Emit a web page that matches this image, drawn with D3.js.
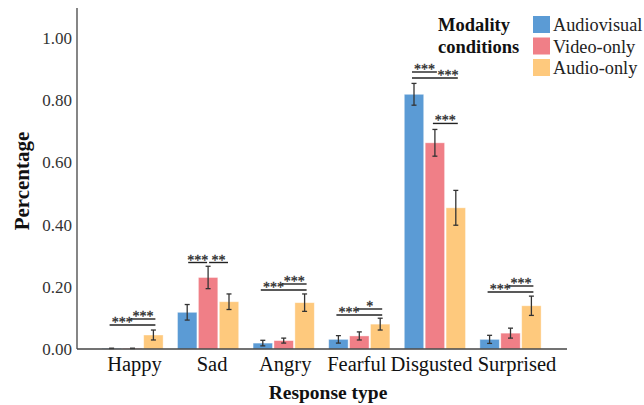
<!DOCTYPE html>
<html><head><meta charset="utf-8">
<script src="https://cdn.jsdelivr.net/npm/d3@7"></script>
<style>body{margin:0;background:#fff}svg{display:block;font-family:'Liberation Serif','Times New Roman',Times,serif}</style>
</head><body>
<svg id="c" width="644" height="405"></svg>
<script>
const categories = ["Happy","Sad","Angry","Fearful","Disgusted","Surprised"];
const seriesNames = ["Audiovisual","Video-only","Audio-only"];
const audiovisual = [0.002,0.118,0.019,0.031,0.819,0.031];
const videoOnly   = [0.002,0.230,0.027,0.042,0.663,0.051];
const audioOnly   = [0.045,0.152,0.149,0.080,0.454,0.139];
const errAV = [0.000,0.025,0.009,0.012,0.035,0.013];
const errVO = [0.000,0.036,0.008,0.013,0.043,0.016];
const errAO = [0.016,0.025,0.028,0.019,0.056,0.031];
const yTicks = [0,0.2,0.4,0.6,0.8,1.0];
// significance: [category, fromSeries, toSeries, label, level, labelPos]
const sigs = [
  ["Happy",0,2,"***",0,"left"],["Happy",1,2,"***",1,"mid"],
  ["Sad",0,1,"***",0,"mid"],["Sad",1,2,"**",0,"mid"],
  ["Angry",0,2,"***",0,"left"],["Angry",1,2,"***",1,"mid"],
  ["Fearful",0,2,"***",0,"left"],["Fearful",1,2,"*",1,"mid"],
  ["Disgusted",0,2,"***",0,"right"],["Disgusted",0,1,"***",1,"mid"],["Disgusted",1,2,"***",-1,"mid"],
  ["Surprised",0,2,"***",0,"left"],["Surprised",1,2,"***",1,"mid"]
];
const sigBase = {Happy:325,Sad:262.5,Angry:290,Fearful:315,Disgusted:78,Surprised:292};
const colors = ["#5b9bd5","#f07f87","#fec97d"];
const series = [audiovisual, videoOnly, audioOnly];
const errs = [errAV, errVO, errAO];

const svg = d3.select("#c");
const y = d3.scaleLinear().domain([0,1]).range([349,38]);
const x = d3.scaleBand().domain(categories).range([94.7,548.3]).paddingInner(0.19).paddingOuter(0.095);
const xs = d3.scaleBand().domain([0,1,2]).range([0,x.bandwidth()]).paddingInner(0.07);

categories.forEach((c,i)=>{
  series.forEach((s,j)=>{
    const bx = x(c)+xs(j), bw = xs.bandwidth();
    svg.append("rect").attr("x",bx).attr("y",y(s[i])).attr("width",bw)
      .attr("height",y(0)-y(s[i])).attr("fill",colors[j]).attr("stroke","#fff").attr("stroke-opacity",0.5).attr("stroke-width",0.8);
    const e = errs[j][i];
    const cx = bx+bw/2;
    if(e>0){
      const t=y(s[i]+e), b=y(s[i]-e);
      const g = svg.append("g").attr("stroke","#333").attr("stroke-width",1.3);
      g.append("line").attr("x1",cx).attr("x2",cx).attr("y1",t).attr("y2",b);
      g.append("line").attr("x1",cx-2.5).attr("x2",cx+2.5).attr("y1",t).attr("y2",t);
      g.append("line").attr("x1",cx-2.5).attr("x2",cx+2.5).attr("y1",b).attr("y2",b);
    } else {
      svg.append("line").attr("x1",cx-2.5).attr("x2",cx+2.5).attr("y1",y(s[i])).attr("y2",y(s[i])).attr("stroke","#222").attr("stroke-width",1.6);
    }
  });
});

svg.append("line").attr("x1",77).attr("x2",77).attr("y1",8).attr("y2",y(0)).attr("stroke","#444").attr("stroke-width",1.3);
svg.append("line").attr("x1",77).attr("x2",567).attr("y1",y(0)).attr("y2",y(0)).attr("stroke","#444").attr("stroke-width",1.3);
svg.selectAll(".yt").data(yTicks).join("text").attr("x",72).attr("y",d=>y(d)).attr("dy","0.35em")
  .attr("text-anchor","end").attr("font-size",17).attr("fill","#333").text(d=>d.toFixed(2));
const labelShift = {Happy:2,Sad:4,Angry:1.5,Fearful:-2.5,Disgusted:-3.5,Surprised:6.5};
svg.selectAll(".xt").data(categories).join("text").attr("x",d=>x(d)+x.bandwidth()/2+labelShift[d]).attr("y",371)
  .attr("text-anchor","middle").attr("font-size",20.5).attr("fill","#111").text(d=>d);
svg.append("text").attr("transform","translate(29,181) rotate(-90)").attr("text-anchor","middle")
  .attr("font-weight","bold").attr("font-size",21).attr("fill","#111").text("Percentage");
svg.append("text").attr("x",328).attr("y",399).attr("text-anchor","middle")
  .attr("font-weight","bold").attr("font-size",19.5).attr("fill","#111").text("Response type");

sigs.forEach(([c,a,b,lab,lev,pos])=>{
  const ext = c==="Sad" ? -1 : 2;
  const xa = x(c)+xs(a)+xs.bandwidth()/2 - ext, xb = x(c)+xs(b)+xs.bandwidth()/2 + ext;
  let ly;
  if(lev===-1){ ly = y(videoOnly[4]+errVO[4]) - 6; }
  else ly = sigBase[c] - lev*6;
  svg.append("line").attr("x1",xa).attr("x2",xb).attr("y1",ly).attr("y2",ly).attr("stroke","#222").attr("stroke-width",1.4);
  let tx;
  if(pos==="left") tx = x(c)+xs(0)+xs.bandwidth()+1;
  else if(pos==="right") tx = x(c)+xs(1)+xs.bandwidth()/2+13;
  else tx = (xa+xb)/2;
  svg.append("text").attr("x",tx).attr("y",ly+2).attr("text-anchor","middle")
    .attr("font-size",14).attr("fill","#333").attr("stroke","#333").attr("stroke-width",0.35).text(lab);
});

svg.append("text").attr("x",438).attr("y",31).attr("font-weight","bold").attr("font-size",18.5).attr("fill","#111").text("Modality");
svg.append("text").attr("x",438).attr("y",53).attr("font-weight","bold").attr("font-size",18.5).attr("fill","#111").text("conditions");
seriesNames.forEach((n,j)=>{
  svg.append("rect").attr("x",533).attr("y",16+j*21.5).attr("width",17).attr("height",17).attr("fill",colors[j]);
  svg.append("text").attr("x",553).attr("y",25+j*21.5).attr("dy","0.35em").attr("font-size",18.3).attr("fill","#222").text(n);
});
</script>
</body></html>
